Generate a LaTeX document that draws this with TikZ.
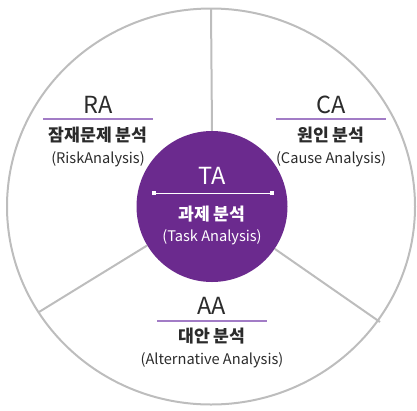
\documentclass[tikz,border=0pt]{standalone}
\usepackage{fontspec}
\setmainfont{Noto Sans CJK KR}
\definecolor{tapurple}{HTML}{6B2A8E}
\definecolor{ulpurple}{HTML}{A27CC6}
\definecolor{rimgray}{HTML}{BDBDBD}
\definecolor{txtgray}{HTML}{2B2B2B}
\begin{document}
\begin{tikzpicture}[x=1pt,y=-1pt,
  rim/.style={draw=rimgray,line width=2pt},
  abbr/.style={text=txtgray,font=\fontsize{23.5}{23.5}\selectfont,inner sep=0pt,anchor=base},
  kor/.style={text=txtgray,font=\fontsize{17.2}{17.2}\selectfont\bfseries,inner sep=0pt,anchor=base},
  eng/.style={text=txtgray,font=\fontsize{14.6}{14.6}\selectfont,inner sep=0pt,anchor=base},
  uline/.style={draw=ulpurple,line width=1.2pt},
  endsq/.style={fill=white,draw=none,minimum size=4pt,inner sep=0pt}]
\useasboundingbox (0,0) rectangle (417,410);
\coordinate (c) at (211,206.5);
\draw[rim] (c) ellipse [x radius=204, y radius=198];
\coordinate (top) at (211,8.5);
\coordinate (bl) at (39,312);
\coordinate (br) at (380,322);
\node[circle,fill=tapurple,minimum size=151pt,inner sep=0pt] (ta) at (212,206.5) {};
\draw[rim] (ta.90) -- (top);
\draw[rim] (ta.211) -- (bl);
\draw[rim] (ta.326) -- (br);
% TA
\node[abbr,text=white] (tat) at (212,184) {TA};
\coordinate (tal) at (154,193);
\coordinate (tar) at (272,193);
\draw[white,line width=1pt] (tal) -- (tar);
\node[endsq] at (tal) {};
\node[endsq] at (tar) {};
\node[kor,text=white] (tak) at (212,220) {과제 분석};
\node[eng,text=white] (tae) at (212,241) {(Task Analysis)};
% RA
\node[abbr] (ra) at (98,113) {RA};
\coordinate (ral) at (43,119);
\coordinate (rar) at (153,119);
\draw[uline] (ral) -- (rar);
\node[kor] (rak) at (98,141) {잠재문제 분석};
\node[eng] (rae) at (98,163) {(RiskAnalysis)};
% CA
\node[abbr] (ca) at (331,113) {CA};
\coordinate (cal) at (276,119);
\coordinate (car) at (386,119);
\draw[uline] (cal) -- (car);
\node[kor] (cak) at (331,141) {원인 분석};
\node[eng] (cae) at (331,163) {(Cause Analysis)};
% AA
\node[abbr] (aa) at (212,314) {AA};
\coordinate (aal) at (157,321);
\coordinate (aar) at (267,321);
\draw[uline] (aal) -- (aar);
\node[kor] (aak) at (212,342) {대안 분석};
\node[eng] (aae) at (212,364) {(Alternative Analysis)};
\end{tikzpicture}
\end{document}
